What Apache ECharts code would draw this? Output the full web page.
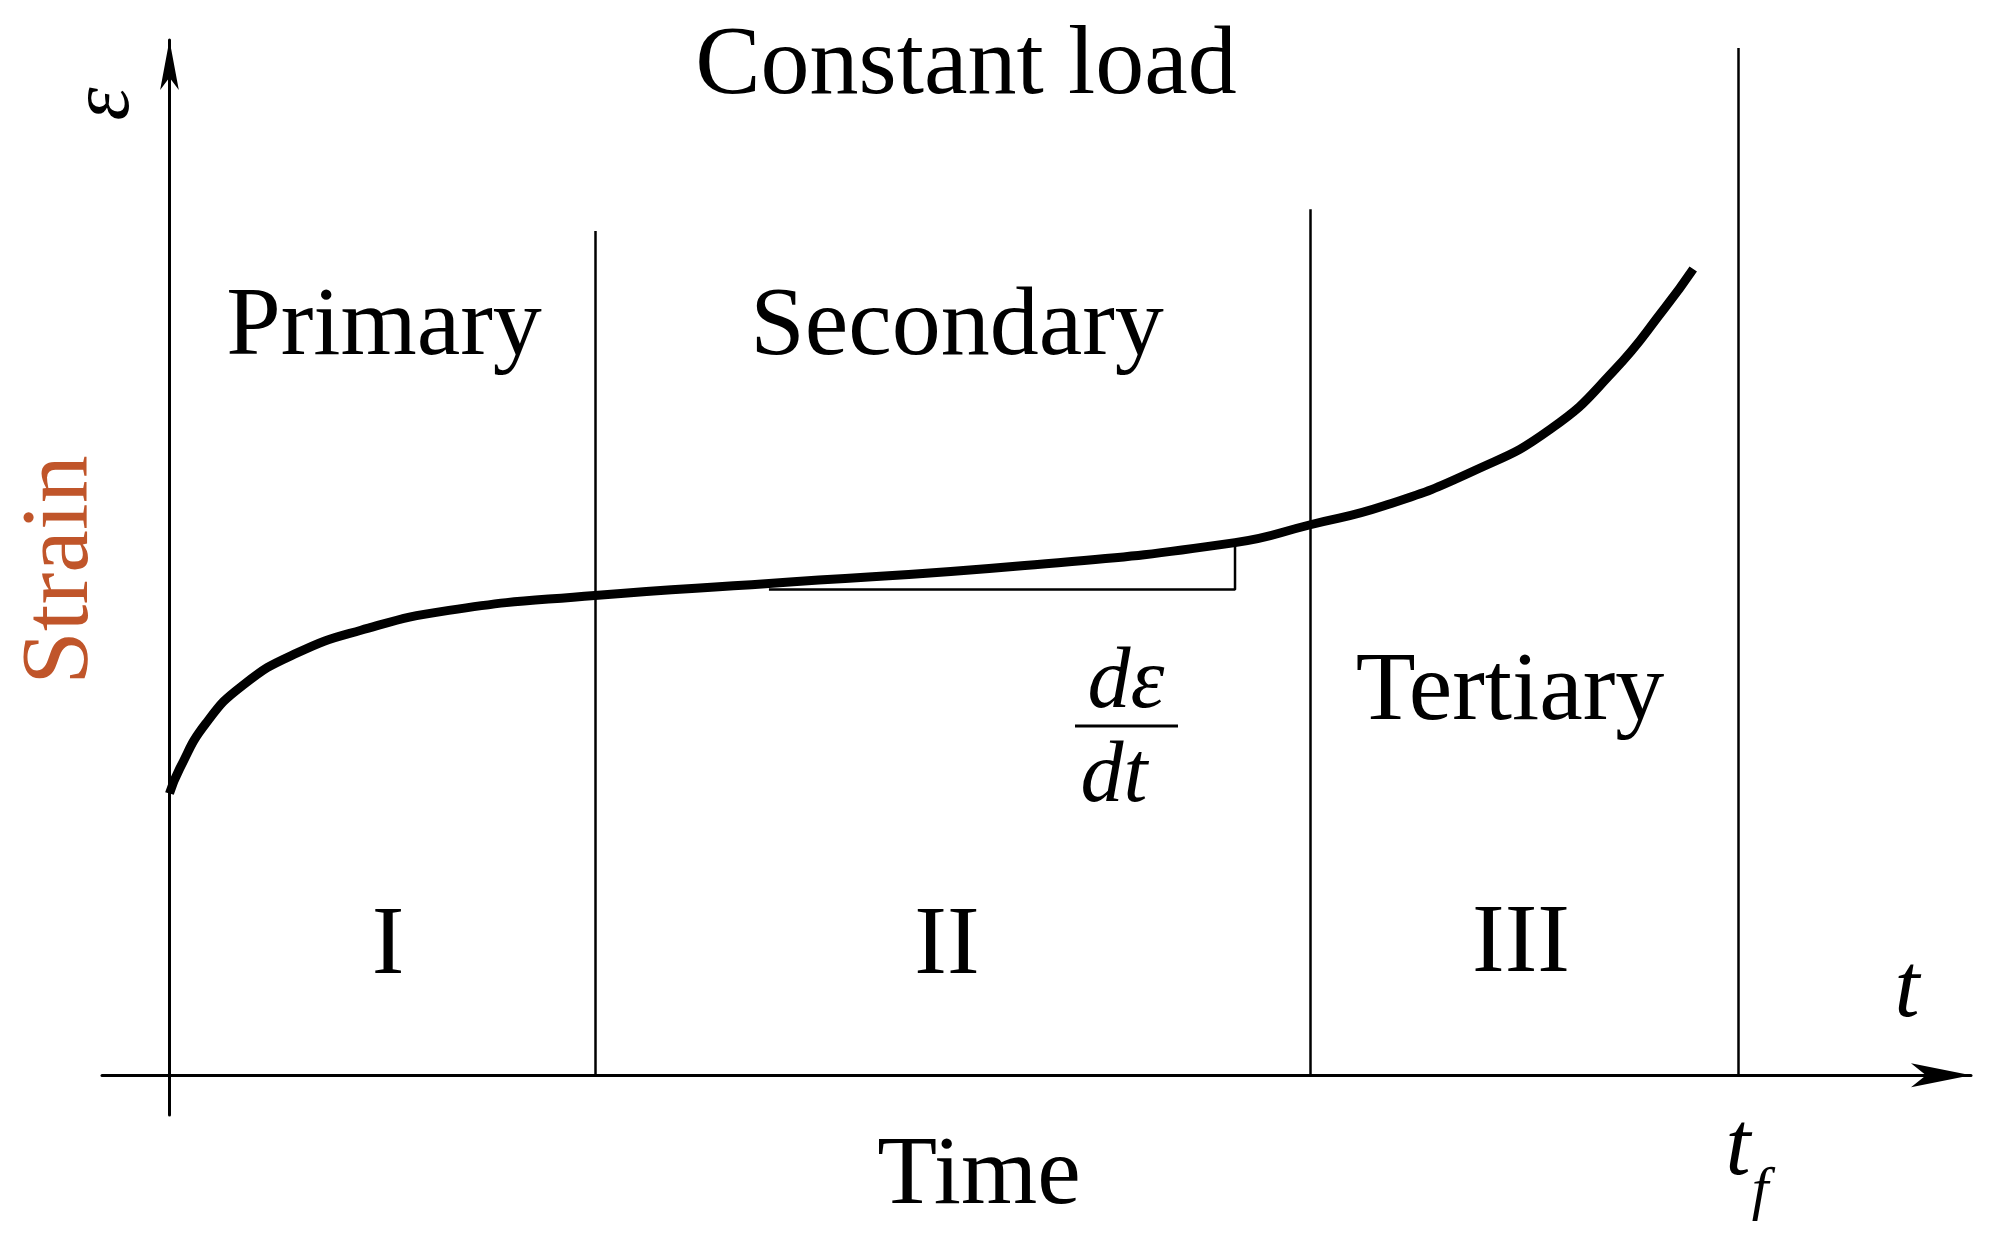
<!DOCTYPE html>
<html>
<head>
<meta charset="utf-8">
<script src="https://cdn.jsdelivr.net/npm/echarts@6/dist/echarts.min.js"></script>
<style>html,body{margin:0;padding:0;background:#fff}#main{width:1997px;height:1248px}</style>
</head>
<body>
<div id="main"></div>
<script>
// creep curve, time in % of rupture time, strain in arbitrary units
var curveTime = [0, 0.65, 2.3, 4.7, 8.1, 12.2, 17.8, 27.1, 38.2, 54.5, 67.9, 72.7, 77.4, 83.1, 88.0, 92.0, 95.3, 97.1];
var curveStrain = [28.3, 30.8, 35.3, 39.2, 42.4, 44.7, 46.7, 48.2, 49.4, 51.2, 53.5, 55.3, 57.2, 60.7, 64.9, 70.7, 77.1, 81.0];
// stage boundaries: [time, top]
var boundaryTime = [27.1, 72.7, 100];
var boundaryTop = [84.8, 87.0, 103.2];
// slope triangle
var slopeTime = [38.2, 67.9, 67.9];
var slopeStrain = [48.8, 48.8, 53.5];

var myChart = echarts.init(document.getElementById('main'));
var serif = '"Liberation Serif", "DejaVu Serif", serif';

var curve = curveTime.map(function (t, i) { return [t, curveStrain[i]]; });
var boundaries = boundaryTime.map(function (t, i) {
    return [{coord: [t, 0]}, {coord: [t, boundaryTop[i]]}];
});
var slope = slopeTime.map(function (t, i) { return [t, slopeStrain[i]]; });

function txt(x, y, s, size, extra) {
    var st = {text: s, x: x, y: y, fontFamily: serif, fontSize: size, fill: '#000',
              textAlign: 'center', textVerticalAlign: 'middle'};
    for (var k in extra) st[k] = extra[k];
    return {type: 'text', style: st};
}

option = {
    animation: false,
    grid: {left: 102, right: 26, top: 40, height: 1075},
    xAxis: {
        type: 'value', min: -4.3, max: 114.8,
        splitLine: {show: false}, axisTick: {show: false}, axisLabel: {show: false},
        axisLine: {onZero: true, symbol: ['none', 'arrow'], symbolSize: [18, 60], lineStyle: {color: '#000', width: 3}}
    },
    yAxis: {
        type: 'value', min: -4, max: 104,
        splitLine: {show: false}, axisTick: {show: false}, axisLabel: {show: false},
        axisLine: {onZero: true, symbol: ['none', 'arrow'], symbolSize: [14, 50], lineStyle: {color: '#000', width: 3}}
    },
    series: [
        {
            type: 'line', data: curve, smooth: 0.5, symbol: 'none',
            lineStyle: {color: '#000', width: 9},
            markLine: {
                silent: true, symbol: 'none', label: {show: false},
                lineStyle: {color: '#000', width: 2.5, type: 'solid'},
                data: boundaries
            }
        },
        {
            type: 'line', data: slope, symbol: 'none', z: 1,
            lineStyle: {color: '#000', width: 2.5}
        }
    ],
    graphic: [
        txt(966, 67, 'Constant load', 98),
        txt(384, 328, 'Primary', 98),
        txt(957, 328, 'Secondary', 98),
        txt(1510, 693, 'Tertiary', 98),
        txt(388, 947, 'I', 98),
        txt(947, 947, 'II', 98),
        txt(1521, 945, 'III', 98),
        txt(979, 1177, 'Time', 98),
        txt(1907, 992, 't', 90, {fontStyle: 'italic'}),
        txt(1738, 1150, 't', 90, {fontStyle: 'italic'}),
        txt(1760, 1192, 'f', 60, {fontStyle: 'italic'}),
        txt(1126, 684, 'dε', 86, {fontStyle: 'italic'}),
        txt(1114, 778, 'dt', 86, {fontStyle: 'italic'}),
        {type: 'line', shape: {x1: 1075, y1: 726, x2: 1178, y2: 726}, style: {stroke: '#000', lineWidth: 3}},
        {type: 'text', x: 62, y: 570, rotation: Math.PI / 2,
         style: {text: 'Strain', fontFamily: serif, fontSize: 96, fill: '#c0552a', textAlign: 'center', textVerticalAlign: 'middle'}},
        {type: 'text', x: 106, y: 104, rotation: Math.PI / 2,
         style: {text: 'ε', fontFamily: serif, fontSize: 84, fontStyle: 'italic', fill: '#000', textAlign: 'center', textVerticalAlign: 'middle'}}
    ]
};
myChart.setOption(option);
</script>
</body>
</html>
